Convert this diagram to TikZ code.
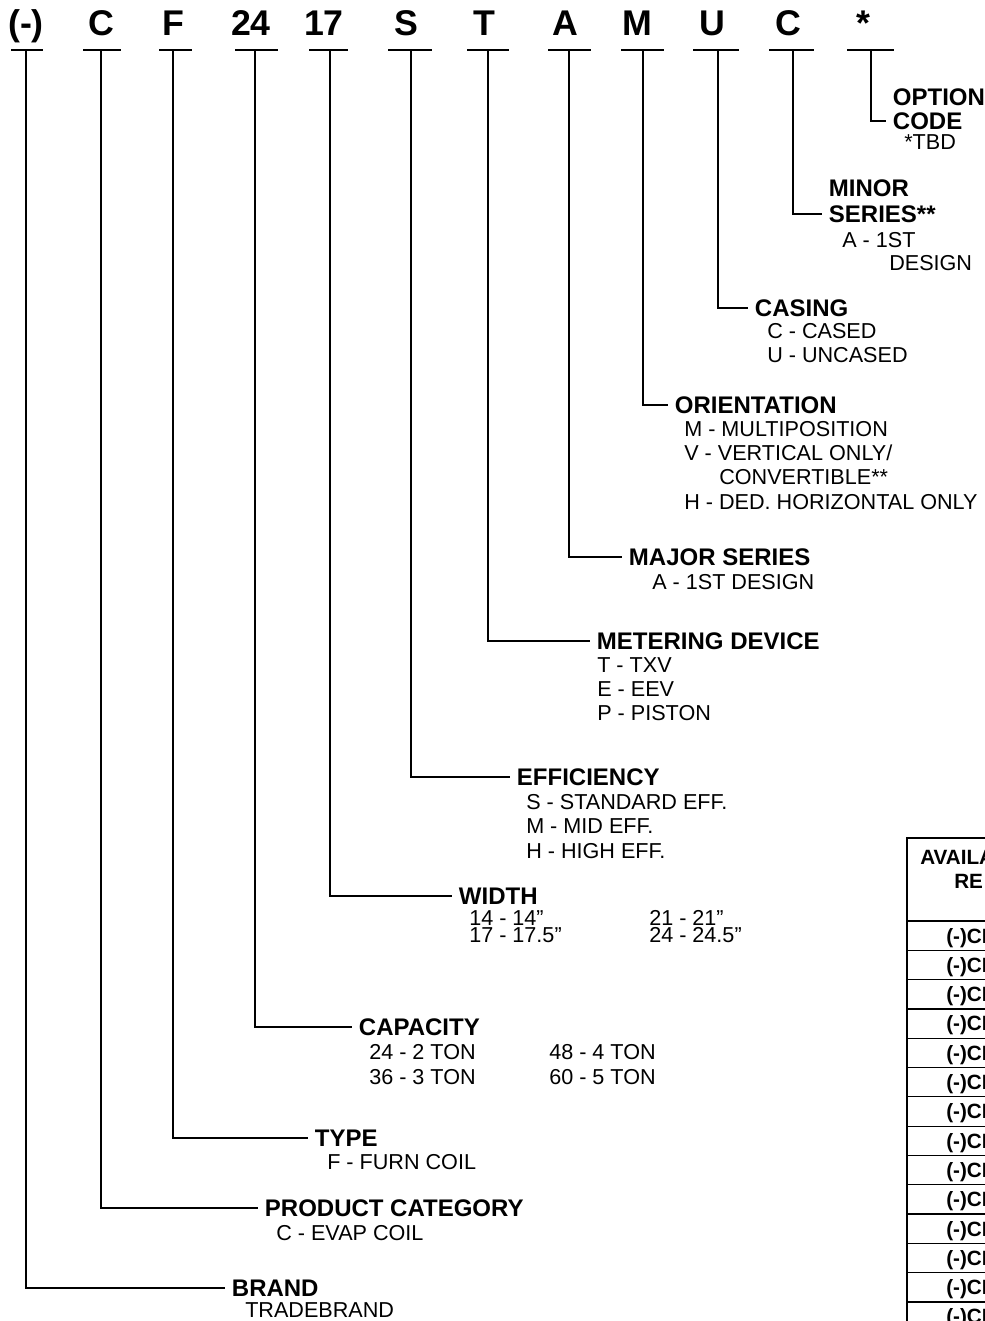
\documentclass[tikz,border=0pt]{standalone}
\usepackage{fontspec}
\setmainfont{Liberation Sans}

\tikzset{
  code/.style={font=\fontsize{26.8}{30}\selectfont\bfseries, anchor=base, inner sep=0pt},
  head/.style={font=\fontsize{18}{20}\selectfont\bfseries, anchor=west, inner xsep=5pt, inner ysep=0pt, text height=12.9pt, text depth=0pt},
  sub/.style={font=\fontsize{16.2}{18}\selectfont, anchor=west, inner sep=0pt, text height=11.6pt, text depth=0pt},
  cell/.style={font=\fontsize{15.5}{17}\selectfont\bfseries, anchor=west, inner sep=0pt, text height=11.1pt, text depth=0pt},
  leg/.style={line width=1.15pt},
  rule/.style={line width=0.9pt},
}

\begin{document}
\begin{tikzpicture}[x=0.75pt, y=-0.75pt]
  \useasboundingbox (0,0) rectangle (985,1321);
  \clip (0,0) rectangle (985,1321);

  % model number letters, their underlines and the top of each leg
  \foreach \n/\txt/\cx/\vx/\ul/\ur in {1/(-)/26/26/11/43, 2/C/101/101/83/121, 3/F/173/173/159/192,
      4/24/251/255/235/278, 5/17/324/330/309/348, 6/S/406/411/388/432, 7/T/484/488/467/509,
      8/A/565/569/548/591, 9/M/637/643/621/664, 10/U/712/718/693/739, 11/C/788/793/769/814,
      12/*/863/871/847/894} {
    \node[code] (k\n) at (\cx,35) {\txt};
    \draw[rule] (\ul,50) -- (\ur,50);
    \coordinate (u\n) at (\vx,50);
  }

  % option code
  \node[head] (optA) at (886,97) {OPTION};
  \node[head] (opt) at (886,121) {CODE};
  \node[sub] (optB) at (904,142) {*TBD};
  \draw[leg] (u12) |- (opt.west);

  % minor series
  \node[head] (minA) at (822,188) {MINOR};
  \node[head] (minor) at (822,214) {SERIES**};
  \node[sub] (minB) at (842,240) {A - 1ST};
  \node[sub] (minC) at (889,263) {DESIGN};
  \draw[leg] (u11) |- (minor.west);

  % casing
  \node[head] (casing) at (748,308) {CASING};
  \node[sub] (casA) at (767,331) {C - CASED};
  \node[sub] (casB) at (767,355) {U - UNCASED};
  \draw[leg] (u10) |- (casing.west);

  % orientation
  \node[head] (orient) at (668,405) {ORIENTATION};
  \node[sub] (oriA) at (684,429) {M - MULTIPOSITION};
  \node[sub] (oriB) at (684,453) {V - VERTICAL ONLY/};
  \node[sub] (oriC) at (719,477) {CONVERTIBLE**};
  \node[sub] (oriD) at (684,502) {H - DED. HORIZONTAL ONLY};
  \draw[leg] (u9) |- (orient.west);

  % major series
  \node[head] (major) at (622,557) {MAJOR SERIES};
  \node[sub] (majA) at (652,582) {A - 1ST DESIGN};
  \draw[leg] (u8) |- (major.west);

  % metering device
  \node[head] (meter) at (590,641) {METERING DEVICE};
  \node[sub] (metA) at (597,665) {T - TXV};
  \node[sub] (metB) at (597,689) {E - EEV};
  \node[sub] (metC) at (597,713) {P - PISTON};
  \draw[leg] (u7) |- (meter.west);

  % efficiency
  \node[head] (eff) at (510,777) {EFFICIENCY};
  \node[sub] (effA) at (526,802) {S - STANDARD EFF.};
  \node[sub] (effB) at (526,826) {M - MID EFF.};
  \node[sub] (effC) at (526,851) {H - HIGH EFF.};
  \draw[leg] (u6) |- (eff.west);

  % width
  \node[head] (width) at (452,896) {WIDTH};
  \node[sub] (widA) at (469,917.5) {14 - 14”};
  \node[sub] (widB) at (469,935) {17 - 17.5”};
  \node[sub] (widC) at (649,917.5) {21 - 21”};
  \node[sub] (widD) at (649,935) {24 - 24.5”};
  \draw[leg] (u5) |- (width.west);

  % capacity
  \node[head] (cap) at (352,1027) {CAPACITY};
  \node[sub] (capA) at (369,1052) {24 - 2 TON};
  \node[sub] (capB) at (369,1077) {36 - 3 TON};
  \node[sub] (capC) at (549,1052) {48 - 4 TON};
  \node[sub] (capD) at (549,1077) {60 - 5 TON};
  \draw[leg] (u4) |- (cap.west);

  % type
  \node[head] (type) at (308,1138) {TYPE};
  \node[sub] (typA) at (327,1162) {F - FURN COIL};
  \draw[leg] (u3) |- (type.west);

  % product category
  \node[head] (prod) at (258,1208) {PRODUCT CATEGORY};
  \node[sub] (proA) at (276,1233) {C - EVAP COIL};
  \draw[leg] (u2) |- (prod.west);

  % brand
  \node[head] (brand) at (225,1288) {BRAND};
  \node[sub] (braA) at (245,1310) {TRADEBRAND};
  \draw[leg] (u1) |- (brand.west);

  % table cut off at the right edge
  \draw[rule] (907,1330) -- (907,838) -- (995,838);
  \node[cell] (tabA) at (920,857) {AVAILA};
  \node[cell] (tabB) at (954,881) {RE};
  \draw[line width=2.2pt] (907,921) -- (995,921);
  \foreach \i in {1,...,13}
    \draw[rule] (907,921+29.3*\i) -- (995,921+29.3*\i);
  \foreach \i in {0,...,13}
    \node[cell] (row\i) at (946,935.6+29.3*\i) {(-)CF};
\end{tikzpicture}
\end{document}
